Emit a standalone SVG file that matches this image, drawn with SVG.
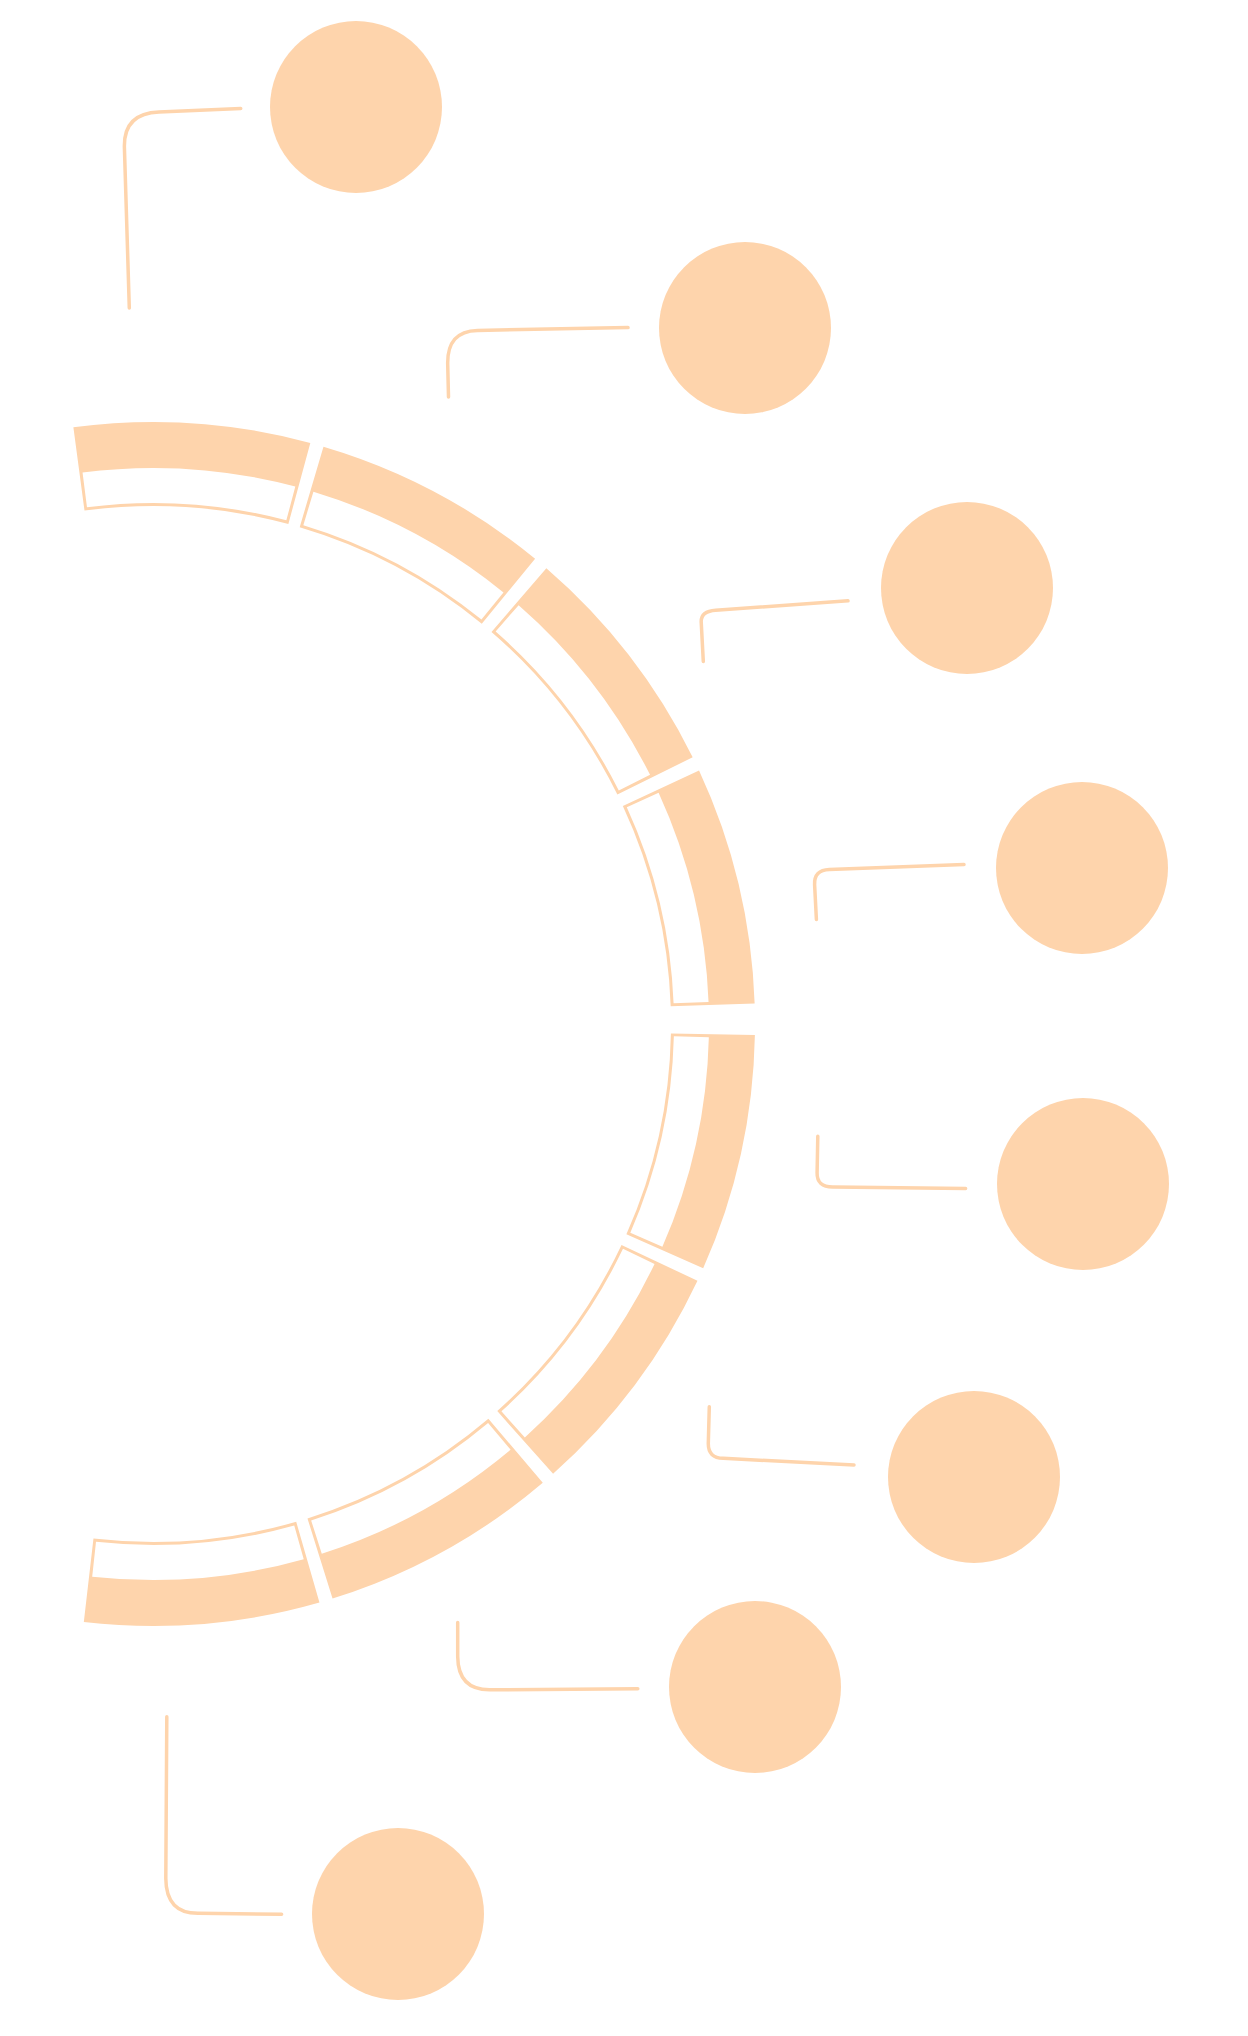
<svg xmlns="http://www.w3.org/2000/svg" width="1248" height="2036" viewBox="0 0 1248 2036">
<style>
.band{fill:none;stroke:#FED4AC;stroke-width:84}
.box{fill:none;stroke:#FFFFFF;stroke-width:35}
.node{fill:#FED4AC}
.conn{fill:none;stroke:#FED4AC;stroke-width:3.5;stroke-linecap:round;stroke-linejoin:round}
</style>
<rect x="0" y="0" width="1248" height="2036" fill="#FFFFFF"/>
<g id="ring">
  <g id="seg1"><circle class="band" cx="153" cy="1024" r="560" stroke-dasharray="222.35 4000" transform="rotate(-97.6 153 1024)"/><circle class="box" cx="153" cy="1024" r="538.5" stroke-dasharray="207.80 4000" transform="rotate(-97.28 153 1024)"/></g>
  <g id="seg2"><circle class="band" cx="153" cy="1024" r="560" stroke-dasharray="224.31 4000" transform="rotate(-73.55 153 1024)"/><circle class="box" cx="153" cy="1024" r="538.5" stroke-dasharray="209.68 4000" transform="rotate(-73.23 153 1024)"/></g>
  <g id="seg3"><circle class="band" cx="153" cy="1024" r="560" stroke-dasharray="223.82 4000" transform="rotate(-49.2 153 1024)"/><circle class="box" cx="153" cy="1024" r="538.5" stroke-dasharray="209.21 4000" transform="rotate(-48.88 153 1024)"/></g>
  <g id="seg4"><circle class="band" cx="153" cy="1024" r="560" stroke-dasharray="224.21 4000" transform="rotate(-24.9 153 1024)"/><circle class="box" cx="153" cy="1024" r="538.5" stroke-dasharray="209.59 4000" transform="rotate(-24.58 153 1024)"/></g>
  <g id="seg5"><circle class="band" cx="153" cy="1024" r="560" stroke-dasharray="223.92 4000" transform="rotate(1.04 153 1024)"/><circle class="box" cx="153" cy="1024" r="538.5" stroke-dasharray="209.31 4000" transform="rotate(1.36 153 1024)"/></g>
  <g id="seg6"><circle class="band" cx="153" cy="1024" r="560" stroke-dasharray="225.78 4000" transform="rotate(25.25 153 1024)"/><circle class="box" cx="153" cy="1024" r="538.5" stroke-dasharray="211.09 4000" transform="rotate(25.57 153 1024)"/></g>
  <g id="seg7"><circle class="band" cx="153" cy="1024" r="560" stroke-dasharray="224.80 4000" transform="rotate(49.65 153 1024)"/><circle class="box" cx="153" cy="1024" r="538.5" stroke-dasharray="210.15 4000" transform="rotate(49.97 153 1024)"/></g>
  <g id="seg8"><circle class="band" cx="153" cy="1024" r="560" stroke-dasharray="221.38 4000" transform="rotate(73.95 153 1024)"/><circle class="box" cx="153" cy="1024" r="538.5" stroke-dasharray="206.86 4000" transform="rotate(74.27 153 1024)"/></g>
</g>
<g id="connectors">
  <path class="conn" d="M240.7,108.4 L159,112 Q123.5,113.3 124.4,147.4 L129.3,308"/>
  <path class="conn" d="M628,327.6 L477.5,330.4 Q447,331 447.7,364.3 L448.5,397"/>
  <path class="conn" d="M848,600.8 L715.7,610.3 Q701,611.3 701.2,621.8 L703.3,661.4"/>
  <path class="conn" d="M964,864.6 L829.3,869.5 Q814,870 814.6,884.6 L816.4,919.5"/>
  <path class="conn" d="M817.8,1136.2 L817.1,1172.9 Q816.8,1187 832.8,1186.9 L965.6,1188.6"/>
  <path class="conn" d="M709.3,1406.7 L708.3,1443.3 Q708,1458 723.3,1458.3 L854,1465"/>
  <path class="conn" d="M457.7,1622.4 L457.7,1656.6 Q458,1690 489.8,1689.8 L637.8,1688.8"/>
  <path class="conn" d="M166.8,1716.8 L165.8,1878.6 Q166,1914 199,1913.3 L281.6,1914.3"/>
</g>
<g id="node1"><circle class="node" cx="356" cy="107" r="86"/></g>
<g id="node2"><circle class="node" cx="745" cy="328" r="86"/></g>
<g id="node3"><circle class="node" cx="967" cy="588" r="86"/></g>
<g id="node4"><circle class="node" cx="1082" cy="868" r="86"/></g>
<g id="node5"><circle class="node" cx="1083" cy="1184" r="86"/></g>
<g id="node6"><circle class="node" cx="974" cy="1477" r="86"/></g>
<g id="node7"><circle class="node" cx="755" cy="1687" r="86"/></g>
<g id="node8"><circle class="node" cx="398" cy="1914" r="86"/></g>
</svg>
